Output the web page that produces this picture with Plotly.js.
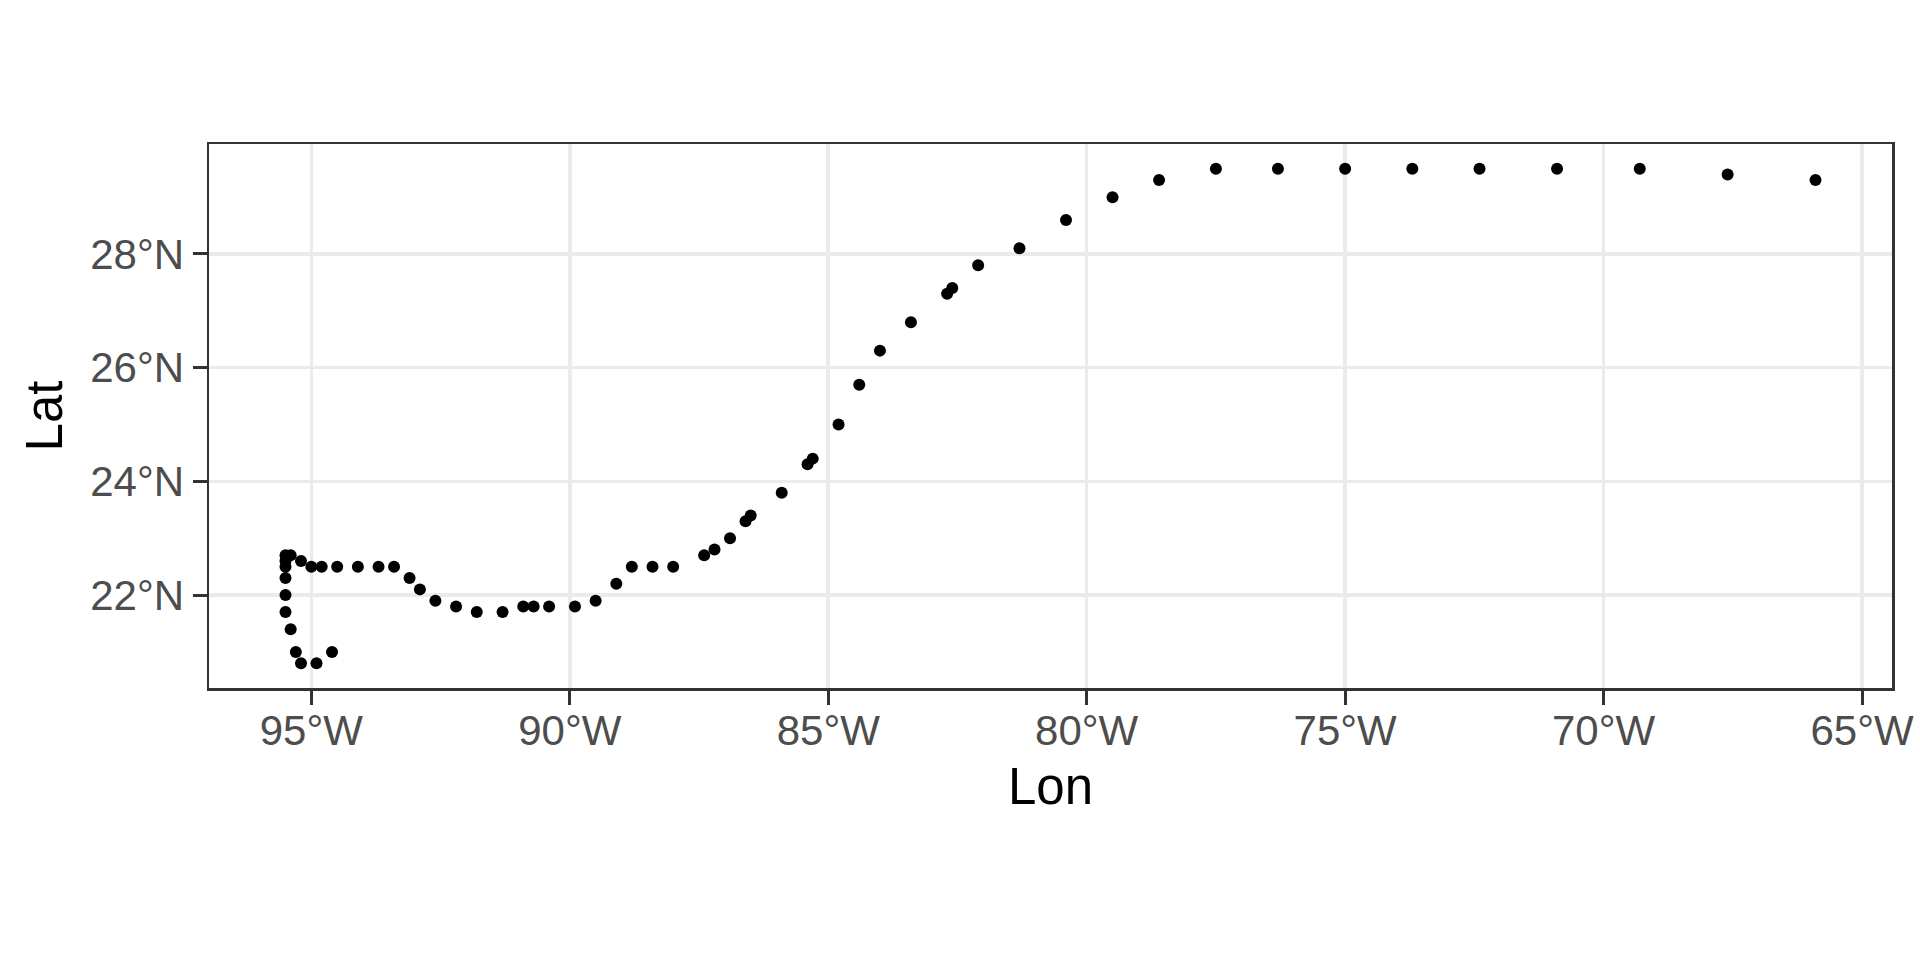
<!DOCTYPE html>
<html>
<head>
<meta charset="utf-8">
<script src="https://cdn.plot.ly/plotly-3.0.1.min.js"></script>
<style>html,body{margin:0;padding:0;background:#fff}#chart{width:1920px;height:960px}</style>
</head>
<body>
<div id="chart"></div>
<script>
const lon = [-65.9,-67.6,-69.3,-70.9,-72.4,-73.7,-75.0,-76.3,-77.5,-78.6,-79.5,-80.4,-81.3,-82.1,-82.6,-82.7,-83.4,-84.0,-84.4,-84.8,-85.3,-85.4,-85.9,-86.5,-86.6,-86.9,-87.2,-87.4,-88.0,-88.4,-88.8,-89.1,-89.5,-89.9,-90.4,-90.7,-90.9,-91.3,-91.8,-92.2,-92.6,-92.9,-93.1,-93.4,-93.7,-94.1,-94.5,-94.8,-95.0,-95.2,-95.4,-95.5,-95.5,-95.5,-95.5,-95.5,-95.5,-95.4,-95.3,-95.2,-94.9,-94.6];
const lat = [29.3,29.4,29.5,29.5,29.5,29.5,29.5,29.5,29.5,29.3,29.0,28.6,28.1,27.8,27.4,27.3,26.8,26.3,25.7,25.0,24.4,24.3,23.8,23.4,23.3,23.0,22.8,22.7,22.5,22.5,22.5,22.2,21.9,21.8,21.8,21.8,21.8,21.7,21.7,21.8,21.9,22.1,22.3,22.5,22.5,22.5,22.5,22.5,22.5,22.6,22.7,22.7,22.6,22.5,22.3,22.0,21.7,21.4,21.0,20.8,20.8,21.0];
const xTickVals = [-95,-90,-85,-80,-75,-70,-65];
const xTickText = ["95°W","90°W","85°W","80°W","75°W","70°W","65°W"];
const yTickVals = [22,24,26,28];
const yTickText = ["22°N","24°N","26°N","28°N"];

const lonMin = Math.min(...lon), lonMax = Math.max(...lon);
const latMin = Math.min(...lat), latMax = Math.max(...lat);
const ex = (lonMax - lonMin) * 0.05, ey = (latMax - latMin) * 0.05;

const trace = {
  type: 'scatter', mode: 'markers', x: lon, y: lat,
  marker: {color: '#000000', size: 12, line: {width: 0}},
  hoverinfo: 'x+y', showlegend: false
};

const axisCommon = {
  showline: true, mirror: true, linecolor: '#333333', linewidth: 2.5,
  ticks: 'outside', ticklen: 14, tickwidth: 3, tickcolor: '#333333',
  showgrid: true, gridcolor: '#EBEBEB', gridwidth: 3.5,
  zeroline: false, tickmode: 'array',
  tickfont: {family: 'Liberation Sans, Arial, sans-serif', size: 42, color: '#4D4D4D'}
};

const layout = {
  width: 1920, height: 960,
  paper_bgcolor: '#ffffff', plot_bgcolor: '#ffffff',
  margin: {l: 209, r: 28, t: 144, b: 272},
  xaxis: Object.assign({}, axisCommon, {
    range: [lonMin - ex, lonMax + ex],
    tickvals: xTickVals, ticktext: xTickText,
    ticklabelstandoff: -10,
    title: {text: 'Lon', standoff: 16, font: {family: 'Liberation Sans, Arial, sans-serif', size: 51, color: '#000000'}}
  }),
  yaxis: Object.assign({}, axisCommon, {
    range: [latMin - ey, latMax + ey],
    tickvals: yTickVals, ticktext: yTickText,
    title: {text: 'Lat', standoff: 12, font: {family: 'Liberation Sans, Arial, sans-serif', size: 51, color: '#000000'}}
  })
};

Plotly.newPlot('chart', [trace], layout, {displayModeBar: false, staticPlot: true});
</script>
</body>
</html>
